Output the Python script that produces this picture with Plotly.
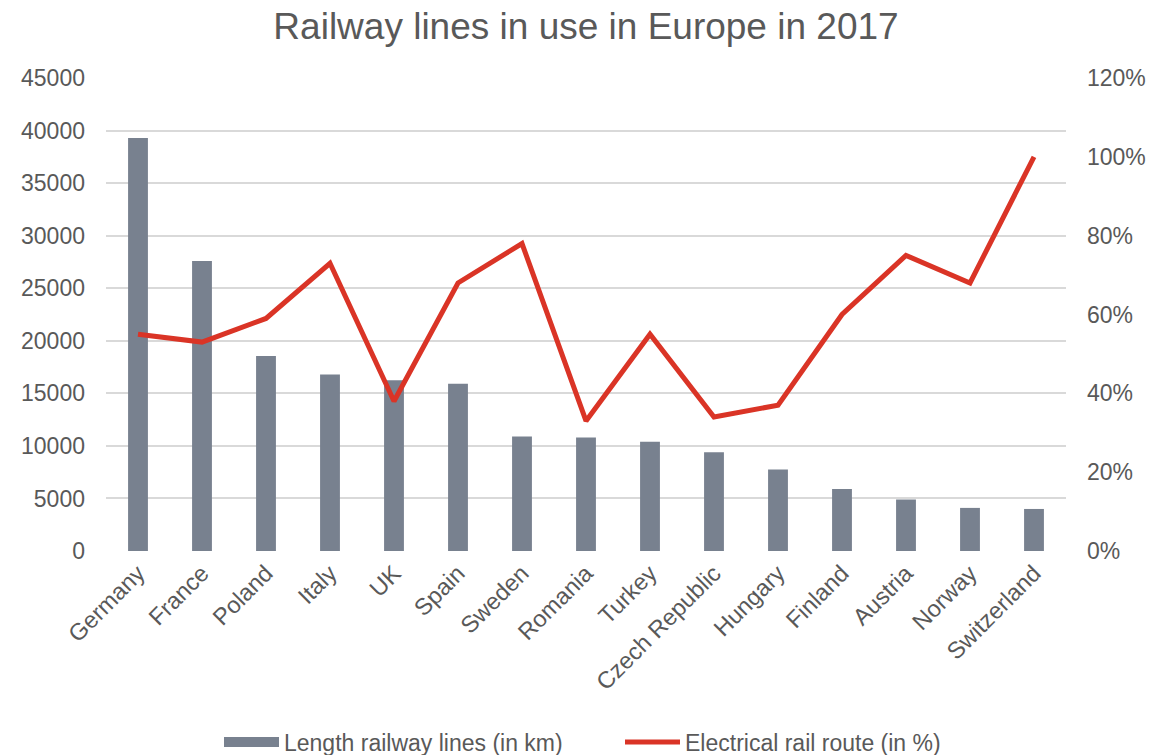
import plotly.graph_objects as go

countries = ["Germany", "France", "Poland", "Italy", "UK", "Spain", "Sweden", "Romania",
             "Turkey", "Czech Republic", "Hungary", "Finland", "Austria", "Norway", "Switzerland"]
length_km = [39300, 27600, 18550, 16800, 16250, 15900, 10900, 10800,
             10400, 9400, 7750, 5900, 4900, 4100, 4000]
electric_pct = [0.55, 0.53, 0.59, 0.73, 0.38, 0.68, 0.78, 0.33,
                0.55, 0.34, 0.37, 0.60, 0.75, 0.68, 1.00]

BAR_COLOR = "#78818F"
LINE_COLOR = "#DA3426"
TEXT_COLOR = "#595959"
GRID_COLOR = "#D9D9D9"
FONT = "Liberation Sans, Arial, sans-serif"

fig = go.Figure()
fig.add_trace(go.Bar(x=countries, y=length_km, name="Length railway lines (in km)",
                     marker=dict(color=BAR_COLOR, line=dict(width=0)), showlegend=False,
                     yaxis="y"))
# legend entry for bars (wide swatch like the reference)
fig.add_trace(go.Scatter(x=[None], y=[None], mode="lines", name="Length railway lines (in km)",
                         line=dict(color=BAR_COLOR, width=12), yaxis="y", showlegend=True,
                         legend="legend"))
fig.add_trace(go.Scatter(x=countries, y=electric_pct, mode="lines", name="Electrical rail route (in %)",
                         line=dict(color=LINE_COLOR, width=5), yaxis="y2", legend="legend2"))

legend_common = dict(orientation="h", yref="container", y=1 - 742 / 755, yanchor="middle",
                     xref="container", xanchor="left", itemwidth=55,
                     font=dict(size=23, color=TEXT_COLOR), bgcolor="rgba(0,0,0,0)")

fig.update_layout(
    width=1151, height=755,
    margin=dict(l=106, r=85, t=78, b=204, autoexpand=False),
    paper_bgcolor="white", plot_bgcolor="white",
    font=dict(family=FONT, size=23, color=TEXT_COLOR),
    title=dict(text="Railway lines in use in Europe in 2017", x=0.5, xref="paper", xanchor="center",
               y=0.966, yanchor="middle", font=dict(size=37, color=TEXT_COLOR, family=FONT)),
    bargap=0.69,
    xaxis=dict(tickangle=-45, showgrid=False, showline=False, ticks="", automargin=False,
               ticklabelstandoff=3, tickfont=dict(size=23.5, color=TEXT_COLOR)),
    yaxis=dict(range=[0, 45000], dtick=5000, tickformat="d", showgrid=True, gridcolor=GRID_COLOR,
               gridwidth=1.5, zeroline=False, showline=False, ticks="", ticklabelstandoff=20,
               automargin=False, tickfont=dict(size=23, color=TEXT_COLOR)),
    yaxis2=dict(range=[0, 1.2], dtick=0.2, tickformat=".0%", overlaying="y", side="right",
                showgrid=False, zeroline=False, showline=False, ticks="", ticklabelstandoff=20,
                automargin=False, tickfont=dict(size=23, color=TEXT_COLOR)),
    legend=dict(x=219 / 1151, **legend_common),
    legend2=dict(x=620 / 1151, **legend_common),
    showlegend=True,
)

fig.write_html("out.html")
